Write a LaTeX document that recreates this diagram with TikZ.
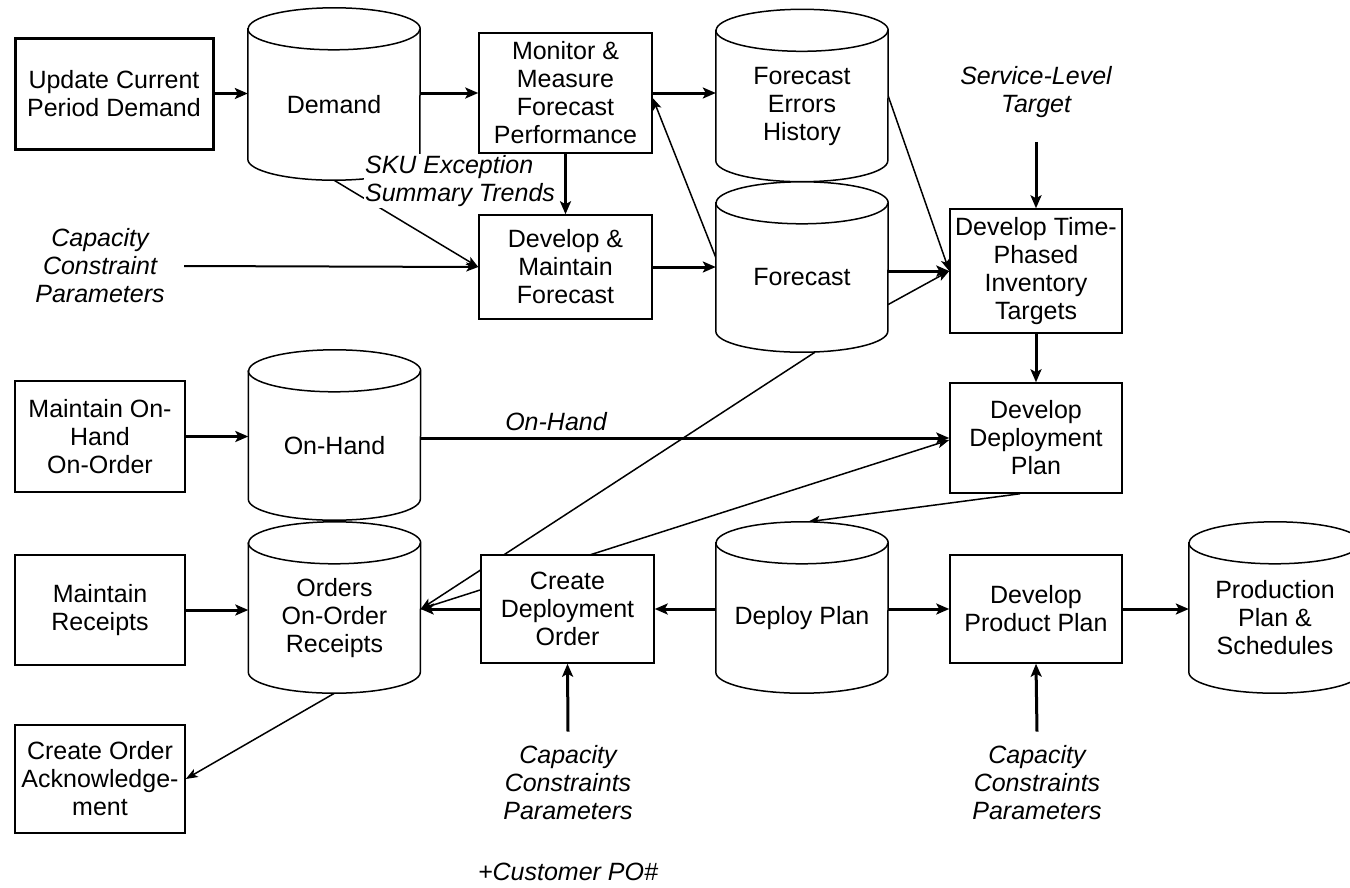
\documentclass[tikz,border=0pt]{standalone}
\usepackage{fontspec}
\setmainfont{Liberation Sans}
\usetikzlibrary{calc,arrows.meta}
\pgfdeclarelayer{bg}
\pgfdeclarelayer{cyl}
\pgfsetlayers{bg,cyl,main}
\newcommand\cylout[1]{%
  \begin{pgfonlayer}{cyl}
    \draw[line width=1.5pt, fill=white] (#1.north west) -- ($(#1.south west)+(0,-21)$)
      arc[start angle=180,end angle=360,x radius=86pt,y radius=21pt]
      -- (#1.north east)
      arc[start angle=0,end angle=180,x radius=86pt,y radius=21pt] -- cycle;
    \draw[line width=1.5pt] (#1.north west) arc[start angle=180,end angle=360,x radius=86pt,y radius=21pt];
  \end{pgfonlayer}}
\begin{document}
\begin{tikzpicture}[x=1pt,y=-1pt,
  every node/.style={font=\fontsize{25}{28}\selectfont, align=center, inner sep=2pt},
  box/.style={draw, line width=1.5pt, fill=white},
  cylnode/.style={minimum width=172pt, minimum height=151pt, inner sep=0pt},
  lbl/.style={font=\fontsize{25}{28}\selectfont\itshape},
  thk/.style={line width=3pt, -{Stealth[length=13pt,width=11pt,inset=3pt]}},
  thn/.style={line width=1.5pt, -{Stealth[length=12pt,width=9pt,inset=3pt]}}]
\useasboundingbox (0,0) rectangle (1350,887);
\begin{pgfonlayer}{bg}
  \fill[white] (0,0) rectangle (1350,887);
\end{pgfonlayer}

% nodes
\node[box, line width=3pt, minimum width=198pt, minimum height=111pt] (update) at (114,93.5) {Update Current\\Period Demand};
\node[cylnode] (demand) at (334,104.5) {Demand};
\node[box, minimum width=173pt, minimum height=120pt] (monitor) at (565.5,93) {Monitor \&\\Measure\\Forecast\\Performance};
\node[cylnode] (feh) at (802,106) {Forecast\\Errors\\History};
\node[lbl] (slt) at (1036,92) {Service-Level\\Target};
\node[lbl, fill=white, align=left, inner sep=1pt] (sku) at (460,181) {SKU Exception\\Summary Trends};
\node[lbl, text width=160pt, inner sep=4pt] (cap1) at (100,266) {Capacity\\Constraint\\Parameters};
\node[box, minimum width=173pt, minimum height=104pt] (dm) at (565.5,267) {Develop \&\\Maintain\\Forecast};
\node[cylnode, minimum height=149pt] (forecast) at (802,277.5) {Forecast};
\node[box, minimum width=172pt, minimum height=124pt] (dtp) at (1036,271) {Develop Time-\\Phased\\Inventory\\Targets};
\node[box, minimum width=170pt, minimum height=111pt] (moh) at (100,436.5) {Maintain On-\\Hand\\On-Order};
\node[cylnode, minimum height=149pt] (onhand) at (334.5,445.5) {On-Hand};
\node[lbl] (ohl) at (556,422) {On-Hand};
\node[box, minimum width=172pt, minimum height=110pt] (ddp) at (1036,438) {Develop\\Deployment\\Plan};
\node[box, minimum width=170pt, minimum height=110pt] (mr) at (100,610) {Maintain\\Receipts};
\node[cylnode, minimum height=150pt] (orders) at (334.5,618) {Orders\\On-Order\\Receipts};
\node[box, minimum width=173pt, minimum height=108pt] (cdo) at (567.5,609) {Create\\Deployment\\Order};
\node[cylnode, minimum height=150pt] (deploy) at (802,618) {Deploy Plan};
\node[box, minimum width=172pt, minimum height=108pt] (dpp) at (1036,609) {Develop\\Product Plan};
\node[cylnode, minimum height=150pt] (prod) at (1275,618) {Production\\Plan \&\\Schedules};
\node[box, minimum width=170pt, minimum height=108pt] (coa) at (100,779) {Create Order\\Acknowledge-\\ment};
\node[lbl] (cap2) at (568,783) {Capacity\\Constraints\\Parameters};
\node[lbl] (cap3) at (1037,783) {Capacity\\Constraints\\Parameters};
\node[lbl] (cpo) at (568,872) {+Customer PO\#};

% cylinder outlines
\cylout{demand}
\cylout{feh}
\cylout{forecast}
\cylout{onhand}
\cylout{orders}
\cylout{deploy}
\cylout{prod}

% connectors
\begin{pgfonlayer}{bg}
  \coordinate (ordin) at (cdo.west -| orders.east);
  \draw[thk] (update.east) -- (update.east -| demand.west);
  \draw[thk] (monitor.west -| demand.east) -- (monitor.west);
  \draw[thk] (monitor.south) -- (dm.north);
  \draw[thk] (monitor.east) -- (monitor.east -| feh.west);
  \draw[thn, line width=2pt] (cap1.east) -- (dm.west);
  \draw[thn] (demand.south) -- (dm.west);
  \draw[thk] (dm.east) -- (dm.east -| forecast.west);
  \draw[thn] ($(forecast.west)+(0,-20)$) -- ($(monitor.east)+(0,5)$);
  \draw[thn] ($(feh.east)+(0,-10)$) -- (dtp.west);
  \draw[thk] (dtp.west -| forecast.east) -- (dtp.west);
  \draw[thn] ($(forecast.east)+(0,27)$) -- (dtp.west);
  \draw[thk] ($(slt.south)+(0,22)$) -- (dtp.north);
  \draw[thk] (dtp.south) -- (ddp.north);
  \draw[thk] (moh.east) -- (moh.east -| onhand.west);
  \draw[thk] (onhand.east |- ddp.west) -- (ddp.west);
  \draw[thn] ($(ddp.south)+(-16,0)$) -- ($(deploy.north)+(6,-21)$);
  \draw[thk] (mr.east) -- (mr.east -| orders.west);
  \draw[thk] (cdo.west) -- (ordin);
  \draw[thn] ($(forecast.south)+(13,0)$) -- (ordin);
  \draw[thn] (ordin) -- ($(ddp.west)+(0,2)$);
  \draw[thk] (deploy.west |- cdo.east) -- (cdo.east);
  \draw[thk] (deploy.east |- dpp.west) -- (dpp.west);
  \draw[thk] (dpp.east) -- (dpp.east -| prod.west);
  \draw[thn] (orders.south) -- (coa.east);
  \draw[thk] ($(cap2.north)+(0,-12)$) -- (cdo.south);
  \draw[thk] ($(cap3.north)+(0,-12)$) -- (dpp.south);
\end{pgfonlayer}
\end{tikzpicture}
\end{document}
